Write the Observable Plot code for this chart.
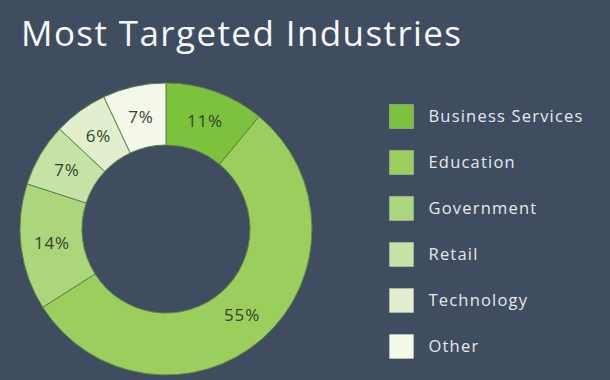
<!DOCTYPE html>
<html>
<head>
<meta charset="utf-8">
<script src="https://cdn.jsdelivr.net/npm/d3@7"></script>
<script src="https://cdn.jsdelivr.net/npm/@observablehq/plot@0.6"></script>
<style>
  html, body { margin: 0; padding: 0; background: #404c5f; width: 610px; height: 380px; overflow: hidden; }
  #title { height: 70px; box-sizing: border-box; padding: 12px 0 0 21px; font-family: "Open Sans", sans-serif; font-size: 35px; letter-spacing: 1.4px; color: #f5f7f9; line-height: 42px; }
  svg { display: block; }
</style>
</head>
<body>
<div id="title">Most Targeted Industries</div>
<div id="chart"></div>
<script>
const categories = ["Business Services", "Education", "Government", "Retail", "Technology", "Other"];
const shares = [11, 55, 14, 7, 6, 7];
const colors = ["#7cc23d", "#9bce5c", "#abd67c", "#c7e2a6", "#e2efcf", "#f3f8ea"];

const data = categories.map((name, i) => ({name, share: shares[i]}));

function donut(index, scales, values, dimensions) {
  const color = scales.color || d3.scaleOrdinal(categories, colors);
  const cx = 166, cy = 159, rOuter = 146, rInner = 84;
  const pie = d3.pie().sort(null).value(d => d.share)(data);
  const arc = d3.arc().innerRadius(rInner).outerRadius(rOuter);
  const g = d3.create("svg:g").attr("transform", `translate(${cx},${cy})`);
  g.selectAll("path").data(pie).join("path")
    .attr("d", arc)
    .attr("fill", d => color(d.data.name))
    .attr("stroke", "#628246")
    .attr("stroke-width", 1);
  g.selectAll("text").data(pie).join("text")
    .attr("transform", d => `translate(${arc.centroid(d)})`)
    .attr("text-anchor", "middle")
    .attr("dy", "0.35em")
    .attr("font-family", "'Open Sans', sans-serif")
    .attr("font-size", 17)
    .attr("letter-spacing", "0.8px")
    .attr("fill", "#34422c")
    .text(d => d.data.share + "%");
  return g.node();
}

const plot = Plot.plot({
  width: 610,
  height: 310,
  margin: 0,
  style: {background: "transparent", fontFamily: "'Open Sans', sans-serif", letterSpacing: "1.2px"},
  x: {domain: [0, 610], range: [0, 610], axis: null},
  y: {type: "point", domain: categories, range: [44, 277], padding: 0, axis: null},
  color: {domain: categories, range: colors},
  marks: [
    donut,
    Plot.dot(categories, {x: () => 401, y: d => d, fill: d => d, symbol: "square", r: 13.6, stroke: "#dfe6d8", strokeWidth: 0.6, strokeOpacity: 0.5}),
    Plot.text(categories, {x: () => 428, y: d => d, text: d => d, textAnchor: "start", fill: "#e6e9ee", fontSize: 16.5})
  ]
});
document.getElementById("chart").appendChild(plot);
</script>
</body>
</html>
